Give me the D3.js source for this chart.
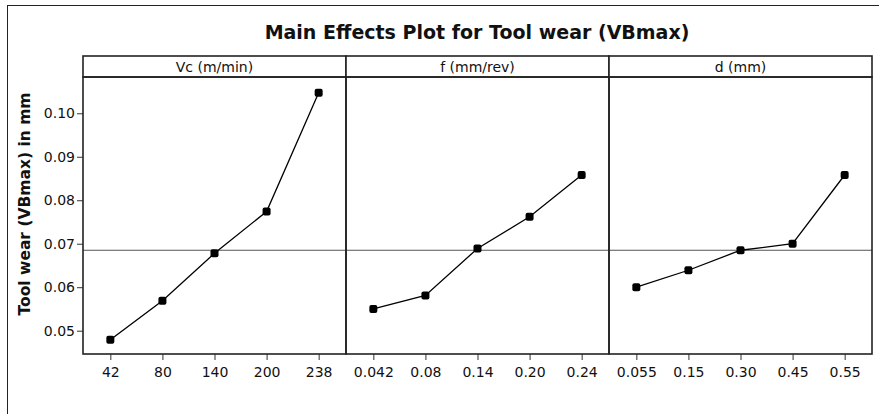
<!DOCTYPE html>
<html>
<head>
<meta charset="utf-8">
<script src="https://cdn.jsdelivr.net/npm/d3@7"></script>
<style>
  html, body { margin: 0; padding: 0; background: #fff; }
  svg text { font-family: "DejaVu Sans", Verdana, sans-serif; fill: #111; }
</style>
</head>
<body>
<div id="root"></div>
<script>
// factor names (panel headers)
const factors = ['Vc (m/min)', 'f (mm/rev)', 'd (mm)'];

// level labels and mean tool wear per level
const vcLevels = ['42', '80', '140', '200', '238'];
const vcMeans = [0.0479, 0.0569, 0.0678, 0.0774, 0.1047];

const fLevels = ['0.042', '0.08', '0.14', '0.20', '0.24'];
const fMeans = [0.0550, 0.0581, 0.0689, 0.0762, 0.0858];

const dLevels = ['0.055', '0.15', '0.30', '0.45', '0.55'];
const dMeans = [0.0600, 0.0639, 0.0685, 0.0700, 0.0858];

const grandMean = 0.0685;
const yTicks = [0.05, 0.06, 0.07, 0.08, 0.09, 0.10];

const W = 879, H = 414;
const plotL = 83, plotR = 872, plotT = 77, plotB = 354, stripH = 21;
const panelW = (plotR - plotL) / 3;

const svg = d3.select('#root')
  .append('svg')
  .attr('width', W)
  .attr('height', H);

// outer frame (runs off the right/bottom edge like the source image)
svg.append('rect')
  .attr('x', 7.5).attr('y', 5.5)
  .attr('width', 900).attr('height', 500)
  .attr('fill', 'none')
  .attr('stroke', '#222')
  .attr('stroke-width', 1);

svg.append('text')
  .attr('x', 477)
  .attr('y', 39)
  .attr('text-anchor', 'middle')
  .attr('font-size', 19)
  .attr('font-weight', 'bold')
  .text('Main Effects Plot for Tool wear (VBmax)');

const y = d3.scaleLinear()
  .domain([0.04464, 0.10834])
  .range([plotB, plotT]);

const panels = [
  { name: factors[0], levels: vcLevels, means: vcMeans },
  { name: factors[1], levels: fLevels, means: fMeans },
  { name: factors[2], levels: dLevels, means: dMeans }
];

// y axis on the first panel only
svg.append('g')
  .attr('transform', `translate(${plotL},0)`)
  .call(d3.axisLeft(y).tickValues(yTicks).tickFormat(d3.format('.2f')).tickSize(6).tickPadding(2))
  .call(g => g.select('.domain').remove())
  .call(g => g.selectAll('line').attr('stroke', '#333'))
  .call(g => g.selectAll('text').attr('font-size', 14).attr('fill', '#111'));

svg.append('text')
  .attr('transform', `translate(30,204) rotate(-90)`)
  .attr('text-anchor', 'middle')
  .attr('font-size', 15.5)
  .attr('font-weight', 'bold')
  .text('Tool wear (VBmax) in mm');

panels.forEach((p, i) => {
  const x0 = plotL + i * panelW;
  const x = d3.scalePoint()
    .domain(p.levels)
    .range([x0, x0 + panelW])
    .padding(0.525);

  const g = svg.append('g');

  // header strip
  g.append('rect')
    .attr('x', x0).attr('y', plotT - stripH)
    .attr('width', panelW).attr('height', stripH)
    .attr('fill', '#fff')
    .attr('stroke', '#222')
    .attr('stroke-width', 1.6);
  g.append('text')
    .attr('x', x0 + panelW / 2)
    .attr('y', plotT - 5)
    .attr('text-anchor', 'middle')
    .attr('font-size', 14)
    .text(p.name);

  // x axis
  g.append('g')
    .attr('transform', `translate(0,${plotB})`)
    .call(d3.axisBottom(x).tickSize(6).tickPadding(7))
    .call(a => a.select('.domain').remove())
    .call(a => a.selectAll('line').attr('stroke', '#333'))
    .call(a => a.selectAll('text').attr('font-size', 14).attr('fill', '#111'));

  // grand mean reference line
  g.append('line')
    .attr('x1', x0).attr('x2', x0 + panelW)
    .attr('y1', y(grandMean)).attr('y2', y(grandMean))
    .attr('stroke', '#555')
    .attr('stroke-width', 1.2);

  const pts = p.levels.map((l, j) => ({ l: l, v: p.means[j] }));

  g.append('path')
    .datum(pts)
    .attr('fill', 'none')
    .attr('stroke', '#000')
    .attr('stroke-width', 1.3)
    .attr('d', d3.line().x(d => x(d.l)).y(d => y(d.v)));

  g.selectAll('rect.pt')
    .data(pts)
    .enter()
    .append('rect')
    .attr('class', 'pt')
    .attr('x', d => x(d.l) - 4)
    .attr('y', d => y(d.v) - 4)
    .attr('width', 8).attr('height', 8)
    .attr('rx', 2)
    .attr('fill', '#000');

  // panel frame
  g.append('rect')
    .attr('x', x0).attr('y', plotT)
    .attr('width', panelW).attr('height', plotB - plotT)
    .attr('fill', 'none')
    .attr('stroke', '#222')
    .attr('stroke-width', 1.6);
});
</script>
</body>
</html>
